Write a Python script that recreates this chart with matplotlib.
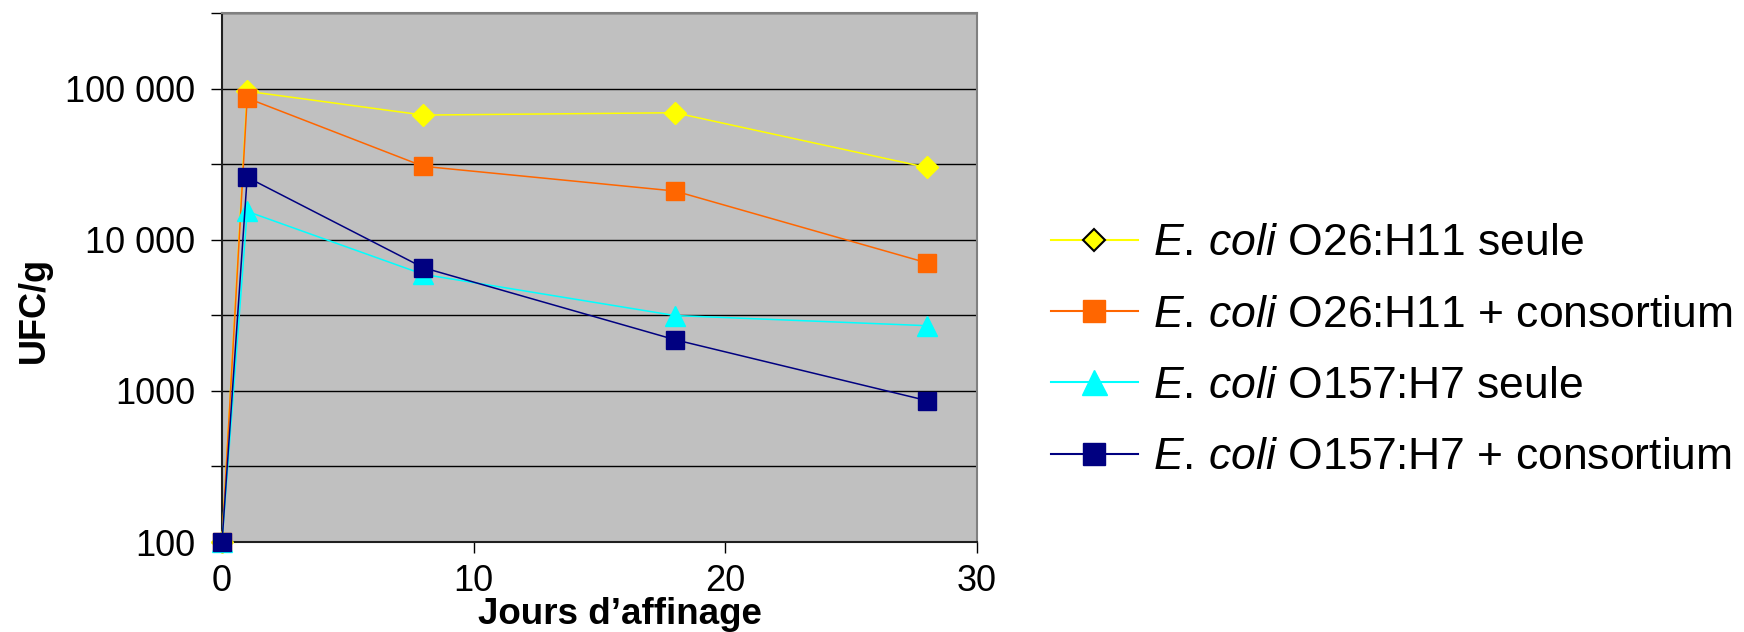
import matplotlib.pyplot as plt
from matplotlib.lines import Line2D

plt.rcParams["font.family"] = ["Liberation Sans", "DejaVu Sans"]
plt.rcParams["mathtext.fontset"] = "custom"
plt.rcParams["mathtext.rm"] = "Liberation Sans"
plt.rcParams["mathtext.it"] = "Liberation Sans:italic"

# data
jours = [0, 1, 8, 18, 28]
o26_seule = [100, 96000, 66800, 69200, 30100]
o26_consortium = [100, 86500, 30600, 21000, 7040]
o157_seule = [100, 15400, 5900, 3150, 2700]
o157_consortium = [100, 25900, 6530, 2180, 863]

labels = [
    r"$\mathit{E.\,coli}$ O26:H11 seule",
    r"$\mathit{E.\,coli}$ O26:H11 + consortium",
    r"$\mathit{E.\,coli}$ O157:H7 seule",
    r"$\mathit{E.\,coli}$ O157:H7 + consortium",
]
colors = ["#FFFF00", "#FF6600", "#00FFFF", "#000080"]
markers = ["D", "s", "^", "s"]
plot_ms = [11, 13.3, 14.4, 13.3]
legend_ms = [11.7, 15.8, 18, 15.8]

y_ticks = [100, 316.2, 1000, 3162, 10000, 31623, 100000, 316228]
y_labels = ["100", "", "1000", "", "10 000", "", "100 000", ""]

fig = plt.figure(figsize=(17.44, 6.32), dpi=100)
ax = fig.add_axes([0.1273, 0.1424, 0.4329, 0.8370])
ax.set_facecolor("#C0C0C0")

series = [o26_seule, o26_consortium, o157_seule, o157_consortium]
for values, c, m, ms in zip(series, colors, markers, plot_ms):
    ax.plot(jours, values, color=c, marker=m, markersize=ms,
            markeredgecolor=c, linewidth=1.1, clip_on=False, zorder=3)

ax.set_yscale("log")
ax.set_ylim(100, 316228)
ax.set_xlim(0, 30)
ax.set_yticks(y_ticks)
ax.set_yticklabels(y_labels)
ax.minorticks_off()
ax.set_xticks([0, 10, 20, 30])
ax.grid(axis="y", color="black", linewidth=1)
ax.set_axisbelow(True)

ax.tick_params(axis="y", labelsize=26, length=8, width=1, pad=11)
ax.tick_params(axis="x", labelsize=26, length=8, width=1, pad=8)

for side in ["top", "right"]:
    ax.spines[side].set_color("#808080")
    ax.spines[side].set_linewidth(1.5)
for side in ["left", "bottom"]:
    ax.spines[side].set_color("#202020")
    ax.spines[side].set_linewidth(1.5)

fig.text(0.0195, 0.51, "UFC/g", rotation=90, fontsize=26,
         fontweight="bold", ha="center", va="center")
fig.text(0.3555, 0.0, "Jours d\u2019affinage", fontsize=26.5,
         fontweight="bold", ha="center", va="bottom")

handles = []
for c, m, ms, i in zip(colors, markers, legend_ms, range(4)):
    edge = "black" if i == 0 else c
    handles.append(Line2D([], [], color=c, marker=m, markersize=ms,
                          markeredgecolor=edge, markeredgewidth=1.5 if i == 0 else 1,
                          linewidth=1.5))

fig.legend(handles, labels, loc="center left", bbox_to_anchor=(0.6026, 0.445),
           frameon=False, fontsize=32, handlelength=1.96, handletextpad=0.34,
           labelspacing=0.68, borderpad=0, borderaxespad=0)

fig.savefig("out.png", dpi=100)
